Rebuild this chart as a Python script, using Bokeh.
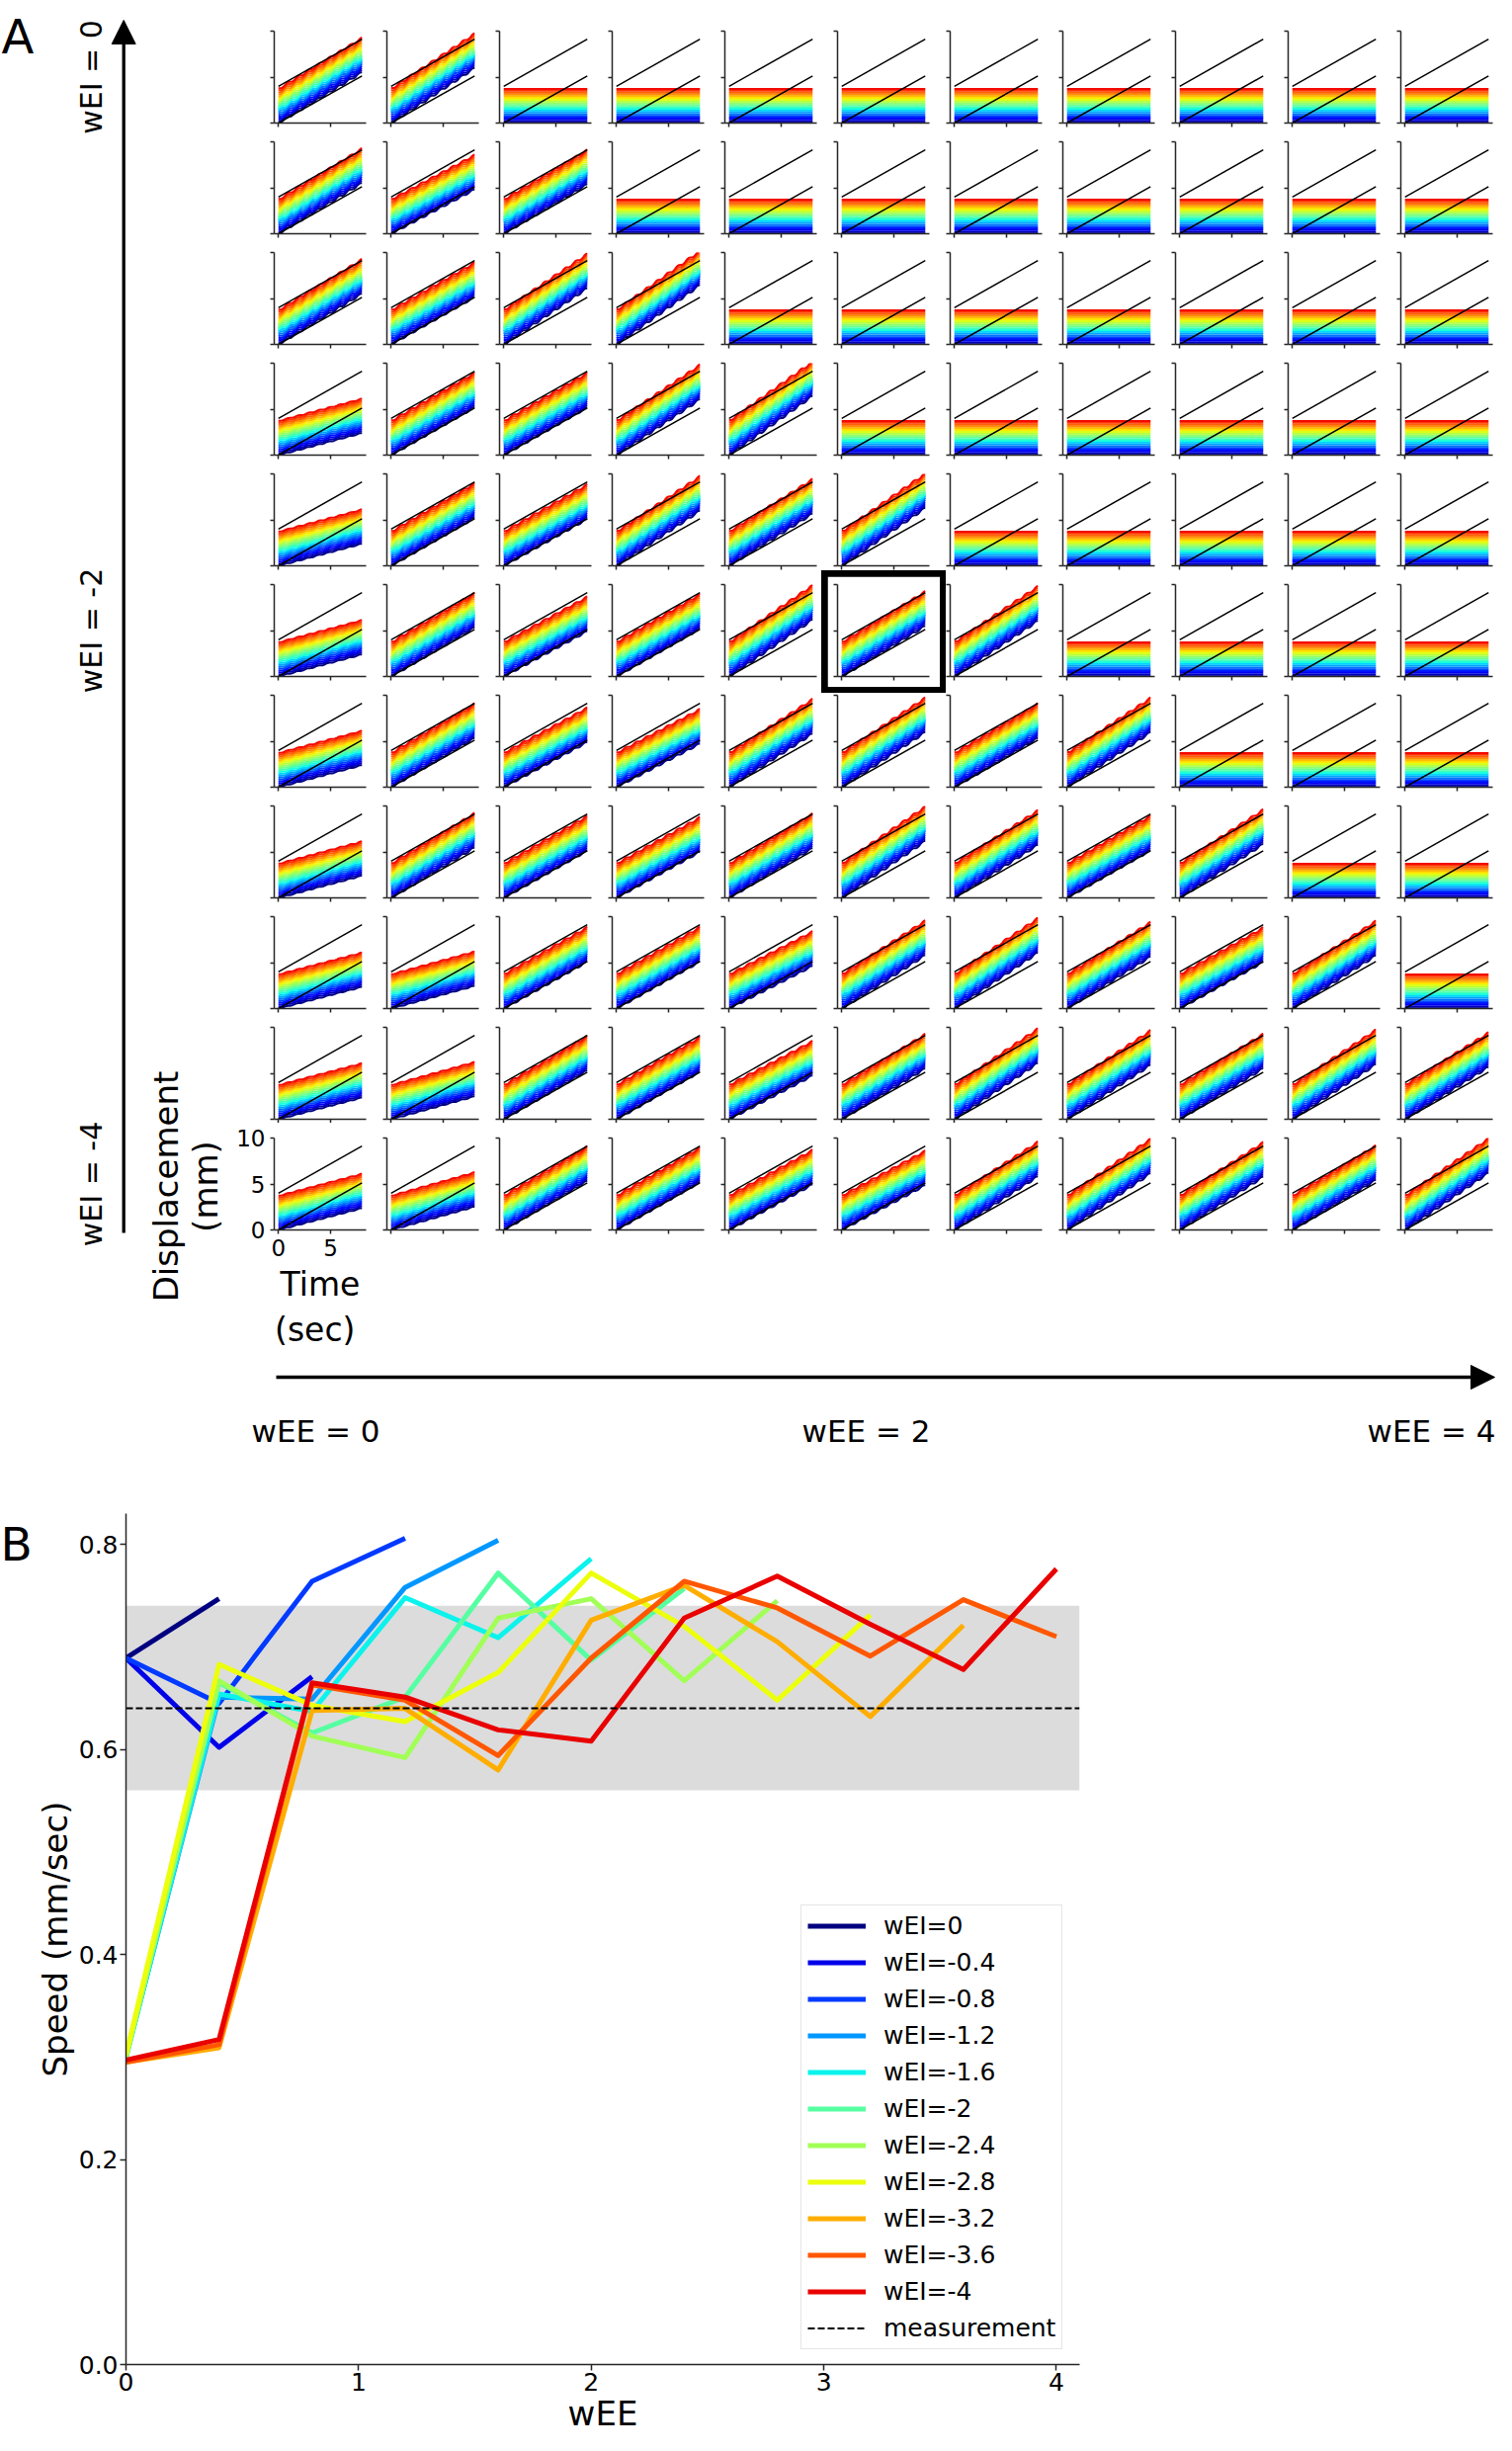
import numpy as np
from bokeh.plotting import figure
from bokeh.layouts import row, column
from bokeh.models import (Range1d, FixedTicker, PrintfTickFormatter, Arrow,
                          NormalHead, Label, BoxAnnotation)
from bokeh.embed import file_html
from bokeh.resources import INLINE
from bokeh.core.properties import value

FONT = "DejaVu Sans"

# ------------------------------------------------------------------ data
wEE_values = [0.0, 0.4, 0.8, 1.2, 1.6, 2.0, 2.4, 2.8, 3.2, 3.6, 4.0]
wEI_labels = ["wEI=0", "wEI=-0.4", "wEI=-0.8", "wEI=-1.2", "wEI=-1.6", "wEI=-2",
              "wEI=-2.4", "wEI=-2.8", "wEI=-3.2", "wEI=-3.6", "wEI=-4"]
wEI_side_labels = ["wEI = 0", "wEI = -2", "wEI = -4"]
wEI_side_rows = [0, 5, 10]
wEE_bottom_labels = ["wEE = 0", "wEE = 2", "wEE = 4"]
displacement_label_lines = ["Displacement", "(mm)"]

# propagation speed (mm/sec) for each wEI, listed for the wEE values where a wave propagates
speed_wEI_0 = [0.689, 0.747]
speed_wEI_m04 = [0.689, 0.602, 0.671]
speed_wEI_m08 = [0.689, 0.645, 0.764, 0.806]
speed_wEI_m12 = [0.300, 0.651, 0.649, 0.758, 0.804]
speed_wEI_m16 = [0.300, 0.654, 0.637, 0.748, 0.709, 0.786]
speed_wEI_m20 = [0.300, 0.665, 0.616, 0.651, 0.772, 0.687, 0.757]
speed_wEI_m24 = [0.300, 0.667, 0.613, 0.592, 0.728, 0.747, 0.667, 0.745]
speed_wEI_m28 = [0.302, 0.683, 0.643, 0.627, 0.675, 0.772, 0.720, 0.648, 0.731]
speed_wEI_m32 = [0.295, 0.309, 0.638, 0.640, 0.580, 0.726, 0.760, 0.705, 0.632, 0.721]
speed_wEI_m36 = [0.295, 0.312, 0.663, 0.648, 0.594, 0.689, 0.764, 0.738, 0.691, 0.746, 0.710]
speed_wEI_m40 = [0.297, 0.317, 0.665, 0.651, 0.619, 0.608, 0.728, 0.769, 0.722, 0.678, 0.776]
speed_series = [speed_wEI_0, speed_wEI_m04, speed_wEI_m08, speed_wEI_m12, speed_wEI_m16,
                speed_wEI_m20, speed_wEI_m24, speed_wEI_m28, speed_wEI_m32, speed_wEI_m36,
                speed_wEI_m40]

measurement_speed = 0.64
measurement_low = 0.56
measurement_high = 0.74

# displacement traces of panel A (initial positions along the chain, mm)
trace_offsets = [0.0, 0.195, 0.39, 0.585, 0.78, 0.975, 1.17, 1.365, 1.56, 1.755,
                 1.95, 2.145, 2.34, 2.535, 2.73, 2.925, 3.12, 3.315, 3.51, 3.705]
reference_line_offsets = [0.0, 4.0]
sim_duration = 8.0
step_period = 1.0
step_phase_shift = 0.06
sim_time = np.linspace(0.0, sim_duration, 81)

panelB_x_limits = [0.0, 4.1]


def jet(x):
    r = np.interp(x, [0, 0.35, 0.66, 0.89, 1], [0, 0, 1, 1, 0.5])
    g = np.interp(x, [0, 0.125, 0.375, 0.64, 0.91, 1], [0, 0, 1, 1, 0, 0])
    b = np.interp(x, [0, 0.11, 0.34, 0.65, 1], [0.5, 1, 1, 0, 0])
    return "#%02x%02x%02x" % (int(round(r * 255)), int(round(g * 255)), int(round(b * 255)))


trace_colors = [jet(0.9 * k / (len(trace_offsets) - 1)) for k in range(len(trace_offsets))]
series_colors = [jet(k / 11.0) for k in range(len(speed_series))]

SPINE = "#262626"


def style_axes(p):
    for ax in (p.xaxis[0], p.yaxis[0]):
        ax.axis_line_color = SPINE
        ax.axis_line_width = 1.5
        ax.major_tick_line_color = SPINE
        ax.major_tick_line_width = 1.5
        ax.major_tick_out = 4
        ax.major_tick_in = 0
        ax.minor_tick_line_color = None


def cell_figure(i, j):
    w = 149 if j == 0 else (107 if j == 10 else 114)
    bl = 45 if j == 0 else 10
    br = 4 if j == 10 else 11
    bt = 31 if i == 0 else (15 if i == 10 else 8)
    bb = 125 if i == 10 else (4 if i == 9 else 11)
    h = bt + 93 + bb
    p = figure(width=w, height=h, x_range=Range1d(-0.4, 8.4), y_range=Range1d(0, 10),
               output_backend="svg", toolbar_location=None,
               min_border_left=bl, min_border_right=br, min_border_top=bt,
               min_border_bottom=bb)
    p.outline_line_color = None
    p.grid.visible = False
    style_axes(p)
    p.xaxis.ticker = FixedTicker(ticks=[0, 5])
    p.yaxis.ticker = FixedTicker(ticks=[0, 5, 10])
    if i == 10 and j == 0:
        for ax in (p.xaxis[0], p.yaxis[0]):
            ax.major_label_text_font = FONT
            ax.major_label_text_font_size = "23px"
            ax.major_label_text_color = "black"
            ax.major_label_standoff = 5
        p.xaxis.axis_label = "Time\n (sec)"
        p.xaxis.axis_label_text_font = FONT
        p.xaxis.axis_label_text_font_size = "33px"
        p.xaxis.axis_label_text_font_style = "normal"
        p.xaxis.axis_label_text_color = "black"
        p.xaxis.axis_label_standoff = 6
    else:
        for ax in (p.xaxis[0], p.yaxis[0]):
            ax.major_label_text_color = None
            ax.major_label_text_font_size = "0px"
            ax.major_label_standoff = 0

    speeds = speed_series[i]
    xs, ys = [], []
    for k, off in enumerate(trace_offsets):
        if j < len(speeds):
            v = speeds[j]
            phase = k * step_phase_shift
            y = off + v * sim_time - v * step_period / (2 * np.pi) * np.sin(
                2 * np.pi * (sim_time - phase) / step_period)
            xs.append(sim_time.tolist())
            ys.append(y.tolist())
        else:
            xs.append([0.0, sim_duration])
            ys.append([off, off])
    p.multi_line(xs=xs, ys=ys, line_color=trace_colors, line_width=2)
    p.multi_line(xs=[[0.0, sim_duration]] * len(reference_line_offsets),
                 ys=[[o, o + measurement_speed * sim_duration] for o in reference_line_offsets],
                 line_color="black", line_width=1.5)
    if i == 5 and j == 5:
        p.styles = {"outline": "9px solid black", "outline-offset": "-3px",
                    "position": "relative", "z-index": "10"}
    return p


grid_rows = []
for i in range(len(speed_series)):
    grid_rows.append(row(*[cell_figure(i, j) for j in range(len(wEE_values))]))
grid = column(*grid_rows)

# ---------------------------------------------------------- left strip
left = figure(width=232, height=1369, x_range=Range1d(8, 240), y_range=Range1d(1377, 8),
              output_backend="svg", toolbar_location=None, min_border=0,
              x_axis_location=None, y_axis_location=None)
left.grid.visible = False
left.outline_line_color = None
left.text(x=[9], y=[44], text=["A"], text_font=value(FONT), text_font_size="48px",
          text_align="left", text_baseline="alphabetic", text_color="black")
left.add_layout(Arrow(end=NormalHead(size=24, fill_color="black", line_color="black"),
                      x_start=132.7, y_start=1255, x_end=132.7, y_end=28,
                      line_width=3.3, line_color="black"))
row_centers = [39 + 112 * r + 46.5 for r in wEI_side_rows]
left.text(x=[100] * 3, y=row_centers, text=wEI_side_labels, angle=np.pi / 2,
          text_font=value(FONT), text_font_size="30px", text_align="center",
          text_baseline="middle", text_color="black")
left.text(x=[175, 215], y=[1208, 1208], text=displacement_label_lines, angle=np.pi / 2,
          text_font=value(FONT), text_font_size="34px", text_align="center",
          text_baseline="middle", text_color="black")

top = row(left, grid)

# ---------------------------------------------------------- bottom strip
bottom = figure(width=1514, height=113, x_range=Range1d(8, 1522), y_range=Range1d(1490, 1377),
                output_backend="svg", toolbar_location=None, min_border=0,
                x_axis_location=None, y_axis_location=None)
bottom.grid.visible = False
bottom.outline_line_color = None
bottom.add_layout(Arrow(end=NormalHead(size=24, fill_color="black", line_color="black"),
                        x_start=287, y_start=1401, x_end=1520, y_end=1401,
                        line_width=3.3, line_color="black"))
bottom.text(x=[327, 884], y=[1455, 1455], text=wEE_bottom_labels[:2],
            text_font=value(FONT), text_font_size="31px", text_align="center",
            text_baseline="middle", text_color="black")
bottom.text(x=[1521], y=[1455], text=wEE_bottom_labels[2:],
            text_font=value(FONT), text_font_size="31px", text_align="right",
            text_baseline="middle", text_color="black")

# ---------------------------------------------------------- panel B
pb = figure(width=1514, height=982, x_range=Range1d(*panelB_x_limits), y_range=Range1d(0, 0.83),
            output_backend="svg", toolbar_location=None,
            min_border_left=120, min_border_right=422, min_border_top=49,
            min_border_bottom=0)
pb.outline_line_color = None
pb.grid.visible = False
pb.add_layout(BoxAnnotation(bottom=measurement_low, top=measurement_high,
                            fill_color="#dcdcdc", fill_alpha=1.0, line_color=None,
                            level="underlay"))
for k, (lab, sp) in enumerate(zip(wEI_labels, speed_series)):
    pb.line(x=wEE_values[:len(sp)], y=sp, line_color=series_colors[k], line_width=5,
            line_join="round", legend_label=lab)
pb.line(x=panelB_x_limits, y=[measurement_speed] * 2, line_color="black", line_width=2,
        line_dash="7 3", legend_label="measurement")

style_axes(pb)
for ax in (pb.xaxis[0], pb.yaxis[0]):
    ax.major_tick_out = 6
    ax.major_label_text_font = FONT
    ax.major_label_text_font_size = "25px"
    ax.major_label_text_color = "black"
    ax.axis_label_text_font = FONT
    ax.axis_label_text_font_size = "34px"
    ax.axis_label_text_font_style = "normal"
    ax.axis_label_text_color = "black"
pb.xaxis.major_label_standoff = 2
pb.xaxis.axis_label_standoff = 0
pb.yaxis.major_label_standoff = 2
pb.yaxis.axis_label_standoff = 1
pb.xaxis.ticker = FixedTicker(ticks=[0, 1, 2, 3, 4])
pb.yaxis.ticker = FixedTicker(ticks=[0.0, 0.2, 0.4, 0.6, 0.8])
pb.yaxis.formatter = PrintfTickFormatter(format="%.1f")
pb.xaxis.axis_label = "wEE"
pb.yaxis.axis_label = "Speed (mm/sec)"

lg = pb.legend[0]
lg.location = (683, 15)
lg.label_text_font = FONT
lg.label_text_font_size = "25px"
lg.label_text_color = "black"
lg.glyph_width = 59
lg.glyph_height = 29
lg.label_height = 29
lg.spacing = 8
lg.padding = 6
lg.margin = 0
lg.label_standoff = 18
lg.border_line_color = "#cccccc"
lg.border_line_width = 1.5
lg.background_fill_alpha = 0.8

pb.add_layout(Label(x=0, y=0.8, x_units="screen", y_units="data", text="B",
                    text_font=FONT, text_font_size="47px", text_color="black",
                    text_align="left", text_baseline="alphabetic"), "left")

page = column(top, row(bottom), row(pb))

with open("out.html", "w") as f:
    f.write(file_html(page, INLINE))
